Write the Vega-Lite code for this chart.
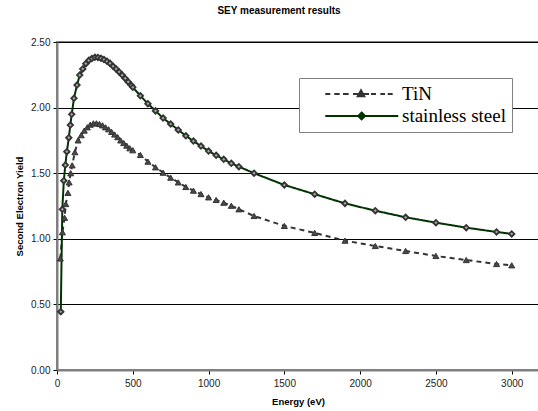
{
  "$schema": "https://vega.github.io/schema/vega-lite/v6.json",
  "width": 482,
  "height": 328,
  "autosize": {"type": "none"},
  "padding": {"left": 57, "top": 42, "right": 0, "bottom": 41},
  "background": "white",
  "title": {"text": "SEY measurement results", "font": "Liberation Sans", "fontSize": 10, "fontWeight": "bold", "color": "black", "anchor": "middle", "dx": -19, "offset": 21},
  "config": {
    "view": {"stroke": "#808080", "strokeWidth": 2},
    "axis": {"labelFont": "Liberation Sans", "labelFontSize": 10, "labelColor": "#222222", "titleFont": "Liberation Sans", "titleFontSize": 9.5, "titleFontWeight": "bold", "titleColor": "black", "domainColor": "#808080", "domainWidth": 2, "tickColor": "black", "tickSize": 4, "gridColor": "black", "gridWidth": 1}
  },
  "data": {"values": [
    {"series": "TiN", "energy": 22, "sey": 0.85},
    {"series": "TiN", "energy": 36, "sey": 1.05},
    {"series": "TiN", "energy": 50, "sey": 1.16},
    {"series": "TiN", "energy": 58, "sey": 1.265},
    {"series": "TiN", "energy": 72, "sey": 1.35},
    {"series": "TiN", "energy": 80, "sey": 1.43},
    {"series": "TiN", "energy": 90, "sey": 1.5},
    {"series": "TiN", "energy": 100, "sey": 1.56},
    {"series": "TiN", "energy": 118, "sey": 1.66},
    {"series": "TiN", "energy": 139, "sey": 1.75},
    {"series": "TiN", "energy": 160, "sey": 1.79},
    {"series": "TiN", "energy": 180, "sey": 1.825},
    {"series": "TiN", "energy": 200, "sey": 1.85},
    {"series": "TiN", "energy": 220, "sey": 1.87},
    {"series": "TiN", "energy": 240, "sey": 1.88},
    {"series": "TiN", "energy": 260, "sey": 1.88},
    {"series": "TiN", "energy": 280, "sey": 1.875},
    {"series": "TiN", "energy": 300, "sey": 1.865},
    {"series": "TiN", "energy": 320, "sey": 1.85},
    {"series": "TiN", "energy": 340, "sey": 1.835},
    {"series": "TiN", "energy": 360, "sey": 1.815},
    {"series": "TiN", "energy": 380, "sey": 1.795},
    {"series": "TiN", "energy": 400, "sey": 1.775},
    {"series": "TiN", "energy": 420, "sey": 1.75},
    {"series": "TiN", "energy": 440, "sey": 1.73},
    {"series": "TiN", "energy": 460, "sey": 1.71},
    {"series": "TiN", "energy": 480, "sey": 1.69},
    {"series": "TiN", "energy": 500, "sey": 1.675},
    {"series": "TiN", "energy": 550, "sey": 1.639},
    {"series": "TiN", "energy": 600, "sey": 1.588},
    {"series": "TiN", "energy": 650, "sey": 1.545},
    {"series": "TiN", "energy": 700, "sey": 1.504},
    {"series": "TiN", "energy": 750, "sey": 1.466},
    {"series": "TiN", "energy": 800, "sey": 1.43},
    {"series": "TiN", "energy": 850, "sey": 1.395},
    {"series": "TiN", "energy": 900, "sey": 1.367},
    {"series": "TiN", "energy": 950, "sey": 1.341},
    {"series": "TiN", "energy": 1000, "sey": 1.316},
    {"series": "TiN", "energy": 1050, "sey": 1.296},
    {"series": "TiN", "energy": 1100, "sey": 1.275},
    {"series": "TiN", "energy": 1150, "sey": 1.252},
    {"series": "TiN", "energy": 1200, "sey": 1.225},
    {"series": "TiN", "energy": 1300, "sey": 1.174},
    {"series": "TiN", "energy": 1500, "sey": 1.098},
    {"series": "TiN", "energy": 1700, "sey": 1.045},
    {"series": "TiN", "energy": 1900, "sey": 0.986},
    {"series": "TiN", "energy": 2100, "sey": 0.945},
    {"series": "TiN", "energy": 2300, "sey": 0.907},
    {"series": "TiN", "energy": 2500, "sey": 0.869},
    {"series": "TiN", "energy": 2700, "sey": 0.838},
    {"series": "TiN", "energy": 2900, "sey": 0.808},
    {"series": "TiN", "energy": 3000, "sey": 0.798},
    {"series": "stainless steel", "energy": 25, "sey": 0.444},
    {"series": "stainless steel", "energy": 35, "sey": 1.225},
    {"series": "stainless steel", "energy": 45, "sey": 1.443},
    {"series": "stainless steel", "energy": 55, "sey": 1.562},
    {"series": "stainless steel", "energy": 65, "sey": 1.664},
    {"series": "stainless steel", "energy": 78, "sey": 1.771},
    {"series": "stainless steel", "energy": 88, "sey": 1.867},
    {"series": "stainless steel", "energy": 97, "sey": 1.949},
    {"series": "stainless steel", "energy": 112, "sey": 2.071},
    {"series": "stainless steel", "energy": 132, "sey": 2.172},
    {"series": "stainless steel", "energy": 150, "sey": 2.248},
    {"series": "stainless steel", "energy": 170, "sey": 2.295},
    {"series": "stainless steel", "energy": 190, "sey": 2.335},
    {"series": "stainless steel", "energy": 210, "sey": 2.36},
    {"series": "stainless steel", "energy": 230, "sey": 2.375},
    {"series": "stainless steel", "energy": 250, "sey": 2.383},
    {"series": "stainless steel", "energy": 270, "sey": 2.382},
    {"series": "stainless steel", "energy": 290, "sey": 2.376},
    {"series": "stainless steel", "energy": 310, "sey": 2.366},
    {"series": "stainless steel", "energy": 330, "sey": 2.353},
    {"series": "stainless steel", "energy": 350, "sey": 2.337},
    {"series": "stainless steel", "energy": 370, "sey": 2.315},
    {"series": "stainless steel", "energy": 390, "sey": 2.295},
    {"series": "stainless steel", "energy": 410, "sey": 2.272},
    {"series": "stainless steel", "energy": 430, "sey": 2.248},
    {"series": "stainless steel", "energy": 450, "sey": 2.222},
    {"series": "stainless steel", "energy": 470, "sey": 2.196},
    {"series": "stainless steel", "energy": 490, "sey": 2.17},
    {"series": "stainless steel", "energy": 500, "sey": 2.155},
    {"series": "stainless steel", "energy": 550, "sey": 2.09},
    {"series": "stainless steel", "energy": 600, "sey": 2.03},
    {"series": "stainless steel", "energy": 650, "sey": 1.975},
    {"series": "stainless steel", "energy": 700, "sey": 1.92},
    {"series": "stainless steel", "energy": 750, "sey": 1.875},
    {"series": "stainless steel", "energy": 800, "sey": 1.83},
    {"series": "stainless steel", "energy": 850, "sey": 1.785},
    {"series": "stainless steel", "energy": 900, "sey": 1.745},
    {"series": "stainless steel", "energy": 950, "sey": 1.707},
    {"series": "stainless steel", "energy": 1000, "sey": 1.669},
    {"series": "stainless steel", "energy": 1050, "sey": 1.636},
    {"series": "stainless steel", "energy": 1100, "sey": 1.606},
    {"series": "stainless steel", "energy": 1150, "sey": 1.575},
    {"series": "stainless steel", "energy": 1200, "sey": 1.55},
    {"series": "stainless steel", "energy": 1300, "sey": 1.5},
    {"series": "stainless steel", "energy": 1500, "sey": 1.41},
    {"series": "stainless steel", "energy": 1700, "sey": 1.34},
    {"series": "stainless steel", "energy": 1900, "sey": 1.27},
    {"series": "stainless steel", "energy": 2100, "sey": 1.214},
    {"series": "stainless steel", "energy": 2300, "sey": 1.164},
    {"series": "stainless steel", "energy": 2500, "sey": 1.123},
    {"series": "stainless steel", "energy": 2700, "sey": 1.085},
    {"series": "stainless steel", "energy": 2900, "sey": 1.052},
    {"series": "stainless steel", "energy": 3000, "sey": 1.037}
  ]},
  "encoding": {
    "x": {"field": "energy", "type": "quantitative", "scale": {"domain": [0, 3180], "nice": false, "zero": false},
      "axis": {"values": [0, 500, 1000, 1500, 2000, 2500, 3000], "format": "d", "grid": false, "title": "Energy (eV)", "labelPadding": 4, "titlePadding": 8, "labelFlush": false}},
    "y": {"field": "sey", "type": "quantitative", "scale": {"domain": [0, 2.5], "nice": false},
      "axis": {"values": [0, 0.5, 1, 1.5, 2, 2.5], "format": ".2f", "grid": true, "title": "Second Electron Yield", "labelPadding": 3, "titlePadding": 6}}
  },
  "layer": [
    {
      "mark": {"type": "line", "strokeWidth": 2},
      "encoding": {
        "color": {"field": "series", "type": "nominal", "scale": {"domain": ["stainless steel", "TiN"], "range": ["#003300", "#333333"]}, "legend": null},
        "strokeDash": {"field": "series", "type": "nominal", "scale": {"domain": ["stainless steel", "TiN"], "range": [[1, 0], [5, 4]]}, "legend": null}
      }
    },
    {
      "transform": [{"filter": {"field": "series", "equal": "TiN"}}],
      "mark": {"type": "point", "shape": "triangle-up", "filled": true, "fill": "#4a4a4a", "stroke": "#333333", "strokeWidth": 1, "size": 36, "opacity": 1}
    },
    {
      "transform": [{"filter": {"field": "series", "equal": "stainless steel"}}],
      "mark": {"type": "point", "shape": "diamond", "filled": true, "fill": "#aaaaaa", "stroke": "#333333", "strokeWidth": 1.8, "size": 30, "opacity": 1}
    },
    {
      "transform": [{"filter": {"field": "energy", "lt": 0}}],
      "mark": {"type": "point", "filled": true, "strokeWidth": 2, "fill": "#333333"},
      "encoding": {
        "stroke": {"field": "series", "type": "nominal", "scale": {"domain": ["TiN", "stainless steel"], "range": ["#333333", "#003300"]}},
        "shape": {"field": "series", "type": "nominal",
          "scale": {"domain": ["TiN", "stainless steel"], "range": ["M1.14,0H1.7M2.14,0H2.74M3.11,0H3.74M4.22,0H6M6.22,0H6.78M7.26,0H7.78M8.08,0H8.63M4.75,0.25L5.11,-0.4L5.47,0.25Z", "M1.14,0H9.25M5.18,-0.38L5.56,0L5.18,0.38L4.8,0Z"]},
          "legend": {"orient": "none", "legendX": 242, "legendY": 36, "title": null, "padding": 6, "fillColor": "white", "strokeColor": "#808080", "symbolSize": 324, "symbolStrokeWidth": 2, "symbolFillColor": "#333333", "symbolOpacity": 1, "labelFont": "Liberation Serif", "labelFontSize": 19, "labelColor": "black", "labelOffset": 77, "labelLimit": 0, "rowPadding": 2, "labelExpr": "datum.label + '\u00a0\u00a0\u00a0\u00a0\u00a0\u00a0\u00a0\u00a0\u00a0\u00a0'"}
        }
      }
    }
  ]
}
